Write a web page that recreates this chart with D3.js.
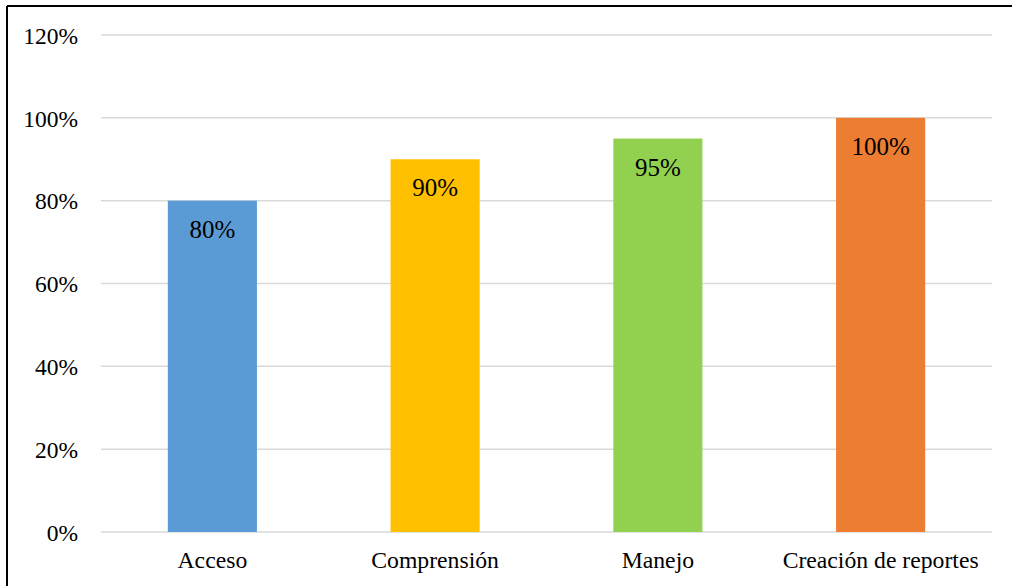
<!DOCTYPE html>
<html>
<head>
<meta charset="utf-8">
<script src="https://cdn.jsdelivr.net/npm/d3@7"></script>
<style>
html,body{margin:0;padding:0;background:#fff;}
svg{display:block;}
text{font-family:"Liberation Serif","Times New Roman",serif;fill:#000;}
</style>
</head>
<body>
<svg id="chart" width="1012" height="586"></svg>
<script>
const categories = ["Acceso", "Comprensión", "Manejo", "Creación de reportes"];
const values = [0.80, 0.90, 0.95, 1.00];
const labels = ["80%", "90%", "95%", "100%"];
const colors = ["#5B9BD5", "#FFC000", "#92D050", "#ED7D31"];
const tickValues = [0, 0.2, 0.4, 0.6, 0.8, 1.0, 1.2];
const tickLabels = ["0%", "20%", "40%", "60%", "80%", "100%", "120%"];

const svg = d3.select("#chart");
const W = 1012, H = 586;
const m = {left: 101, right: 20, top: 35, bottom: 54};

// outer border (top and left visible)
svg.append("line").attr("x1", 7).attr("x2", W).attr("y1", 6).attr("y2", 6)
  .attr("stroke", "#000").attr("stroke-width", 2);
svg.append("line").attr("x1", 7).attr("x2", 7).attr("y1", 6).attr("y2", H)
  .attr("stroke", "#000").attr("stroke-width", 2);

const x = d3.scaleBand().domain(categories).range([m.left, 992]).paddingInner(0.6).paddingOuter(0.3);
const y = d3.scaleLinear().domain([0, 1.2]).range([532, 35]);

// gridlines
svg.append("g").selectAll("line").data(tickValues).join("line")
  .attr("x1", m.left).attr("x2", 992)
  .attr("y1", d => y(d)).attr("y2", d => y(d))
  .attr("stroke", "#d9d9d9").attr("stroke-width", 1.5);

// y axis labels
const yAxis = d3.axisLeft(y).tickValues(tickValues).tickFormat((d, i) => tickLabels[i]).tickSize(0).tickPadding(0);
const gy = svg.append("g").attr("transform", "translate(78,0)").call(yAxis);
gy.select(".domain").remove();
gy.selectAll("text").attr("font-size", 23.5).attr("font-family", "Liberation Serif").attr("fill", "#000").attr("dy", "0.35em");

// bars
svg.append("g").selectAll("rect").data(values).join("rect")
  .attr("x", (d, i) => x(categories[i]))
  .attr("width", x.bandwidth())
  .attr("y", d => y(d))
  .attr("height", d => y(0) - y(d))
  .attr("fill", (d, i) => colors[i]);

// data labels
svg.append("g").selectAll("text").data(values).join("text")
  .attr("x", (d, i) => x(categories[i]) + x.bandwidth() / 2)
  .attr("y", d => y(d) + 37)
  .attr("text-anchor", "middle")
  .attr("font-size", 25)
  .text((d, i) => labels[i]);

// x axis labels
const xAxis = d3.axisBottom(x).tickSize(0).tickPadding(0);
const gx = svg.append("g").attr("transform", "translate(0,532)").call(xAxis);
gx.select(".domain").remove();
gx.selectAll("text").attr("font-size", 23.7).attr("font-family", "Liberation Serif").attr("fill", "#000")
  .attr("dy", null).attr("y", 36);
</script>
</body>
</html>
